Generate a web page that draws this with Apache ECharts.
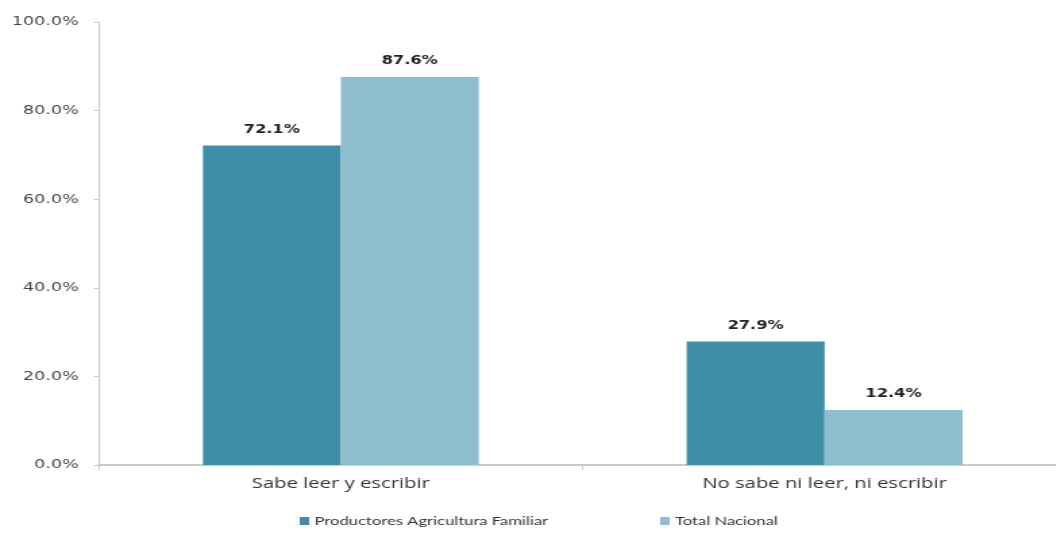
<!DOCTYPE html>
<html>
<head>
<meta charset="utf-8">
<script src="https://cdn.jsdelivr.net/npm/echarts@6/dist/echarts.min.js"></script>
<style>
  html, body { margin: 0; padding: 0; background: #fff; overflow: hidden; width: 1056px; height: 535px; }
  /* the chart is drawn in a narrower box and widened, giving the broad lettering of the original layout */
  #chart { width: 790px; height: 535px; transform: scaleX(1.35); transform-origin: 0 0; }
</style>
</head>
<body>
<div id="chart"></div>
<script>
// Literacy of family-farming producers vs. national total (%)
const categories = ['Sabe leer y escribir', 'No sabe ni leer, ni escribir'];
const seriesNames = ['Productores Agricultura Familiar', 'Total Nacional'];
const productores = [72.1, 27.9];
const totalNacional = [87.6, 12.4];
const yTicks = [0, 20, 40, 60, 80, 100];

const colors = ['#3f8ea8', '#8fbdd0'];

const chart = echarts.init(document.getElementById('chart'), null, { renderer: 'canvas' });

const labelStyle = {
  show: true,
  position: 'top',
  distance: 10,
  fontFamily: 'DejaVu Sans',
  fontWeight: 'bold',
  fontSize: 12,
  color: '#222',
  formatter: p => p.value.toFixed(1) + '%'
};

chart.setOption({
  animation: false,
  color: colors,
  grid: { left: 73.3, top: 22, right: 0, bottom: 70, containLabel: false },
  legend: {
    top: 510,
    left: 217,
    itemWidth: 7,
    itemHeight: 8,
    itemGap: 83,
    icon: 'rect',
    textStyle: { fontFamily: 'Lato', fontSize: 12.3, color: '#333', padding: [0, 0, 0, -1] },
    data: seriesNames
  },
  xAxis: {
    type: 'category',
    data: categories,
    axisLine: { lineStyle: { color: '#cccccc', width: 2 } },
    axisTick: { show: true, length: 5, lineStyle: { color: '#cccccc' } },
    axisLabel: { fontFamily: 'Open Sans', fontSize: 15, color: '#333', margin: 11 }
  },
  yAxis: {
    type: 'value',
    min: yTicks[0],
    max: yTicks[yTicks.length - 1],
    interval: yTicks[1] - yTicks[0],
    axisLine: { show: true, lineStyle: { color: '#cccccc', width: 1.2 } },
    axisTick: { show: true, length: 4, lineStyle: { color: '#cccccc' } },
    splitLine: { show: false },
    axisLabel: {
      fontFamily: 'DejaVu Sans',
      fontSize: 13,
      color: '#444',
      margin: 15,
      formatter: v => v.toFixed(1) + '%'
    }
  },
  series: [
    {
      name: seriesNames[0],
      type: 'bar',
      data: productores,
      barWidth: 102.2,
      barGap: '0%',
      label: labelStyle
    },
    {
      name: seriesNames[1],
      type: 'bar',
      data: totalNacional,
      barWidth: 102.2,
      barGap: '0%',
      label: labelStyle
    }
  ]
});
</script>
</body>
</html>
